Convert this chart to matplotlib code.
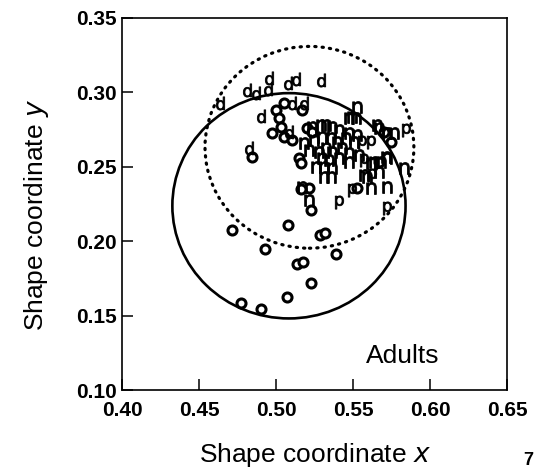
import numpy as np
import matplotlib
matplotlib.use("Agg")
import matplotlib.pyplot as plt
from matplotlib.patches import Circle

plt.rcParams['font.family'] = ['Liberation Sans', 'DejaVu Sans']

# group "d"
d_x = [0.4636, 0.4811, 0.4870, 0.4948, 0.4954, 0.5077, 0.5129, 0.5292, 0.4902, 0.5103, 0.5181, 0.5084, 0.4824]
d_y = [0.2932, 0.3013, 0.2993, 0.3026, 0.3094, 0.3060, 0.3087, 0.3080, 0.2839, 0.2926, 0.2932, 0.2731, 0.2624]

# group "n"
n_x = [0.5525, 0.5473, 0.5519, 0.5493, 0.5655, 0.5765, 0.5668, 0.5720, 0.5292, 0.5324,
       0.5363, 0.5408, 0.5473, 0.5181, 0.5214, 0.5246, 0.5298, 0.5356, 0.5395, 0.5454,
       0.5506, 0.5525, 0.5279, 0.5324, 0.5363, 0.5428, 0.5473, 0.5298, 0.5344, 0.5408,
       0.5473, 0.5259, 0.5311, 0.5363, 0.5311, 0.5356, 0.5538, 0.5636, 0.5681, 0.5713,
       0.5571, 0.5668, 0.5830, 0.5590, 0.5616, 0.5720, 0.5168, 0.5214, 0.5616, 0.5720,
       0.5233]
n_y = [0.2899, 0.2825, 0.2825, 0.2832, 0.2778, 0.2724, 0.2758, 0.2724, 0.2778, 0.2778,
       0.2765, 0.2745, 0.2724, 0.2657, 0.2610, 0.2678, 0.2698, 0.2691, 0.2664, 0.2691,
       0.2664, 0.2711, 0.2597, 0.2624, 0.2597, 0.2624, 0.2590, 0.2557, 0.2543, 0.2557,
       0.2530, 0.2496, 0.2496, 0.2490, 0.2429, 0.2429, 0.2577, 0.2530, 0.2530, 0.2563,
       0.2443, 0.2463, 0.2490, 0.2429, 0.2355, 0.2362, 0.2362, 0.2275, 0.2523, 0.2557,
       0.2765]

# group "p"
p_x = [0.5843, 0.5558, 0.5616, 0.5571, 0.5623, 0.5493, 0.5408, 0.5720]
p_y = [0.2745, 0.2664, 0.2664, 0.2543, 0.2443, 0.2342, 0.2261, 0.2221]

# group "o"
o_x = [0.5000, 0.5051, 0.5168, 0.5019, 0.5032, 0.4974, 0.5051, 0.5103, 0.4844, 0.5201,
       0.5233, 0.5149, 0.5162, 0.5214, 0.5525, 0.5668, 0.5700, 0.5746,
       0.4715, 0.4929, 0.5078, 0.5228, 0.5163, 0.5286, 0.5319, 0.5390, 0.5137, 0.5176,
       0.5228, 0.5072, 0.4773, 0.4903]
o_y = [0.2879, 0.2932, 0.2879, 0.2825, 0.2765, 0.2724, 0.2698, 0.2678, 0.2563, 0.2758,
       0.2731, 0.2557, 0.2523, 0.2355, 0.2355, 0.2530, 0.2731, 0.2664,
       0.2074, 0.1946, 0.2107, 0.2208, 0.2353, 0.2040, 0.2054, 0.1913, 0.1846, 0.1859,
       0.1718, 0.1624, 0.1587, 0.1547]

# circles (center x, center y, radius)
solid_c = (0.5084, 0.2238, 0.0757)
dotted_c = (0.5217, 0.2631, 0.0678)

x_ticks = [0.40, 0.45, 0.50, 0.55, 0.60, 0.65]
y_ticks = [0.10, 0.15, 0.20, 0.25, 0.30, 0.35]

fig = plt.figure(figsize=(5.36, 4.72), dpi=100)
ax = fig.add_axes([0.2276, 0.1737, 0.7184, 0.7882])

ax.add_patch(Circle(solid_c[:2], solid_c[2], fill=False, ec='black', lw=1.9))
ax.add_patch(Circle(dotted_c[:2], dotted_c[2], fill=False, ec='black', lw=2.3,
                    linestyle=(0, (0.4, 1.9)), capstyle='round'))

ax.plot(o_x, o_y, linestyle='none', marker='o', ms=6.5, mfc='white', mec='black', mew=2.2)
ax.plot(d_x, d_y, linestyle='none', marker='$\\mathsf{d}$', ms=9.5, color='black', mew=0.6)
ax.plot(n_x, n_y, linestyle='none', marker='$\\mathsf{n}$', ms=8.5, color='black', mew=0.6)
ax.plot(p_x, p_y, linestyle='none', marker='$\\mathsf{p}$', ms=9.5, color='black', mew=0.6)

ax.set_xlim(0.40, 0.65)
ax.set_ylim(0.10, 0.35)
ax.set_xticks(x_ticks)
ax.set_yticks(y_ticks)
ax.set_xticklabels(['%.2f' % v for v in x_ticks], fontweight='bold', fontsize=15)
ax.set_yticklabels(['%.2f' % v for v in y_ticks], fontweight='bold', fontsize=15)
ax.tick_params(direction='in', length=8, width=1.1, pad=4)
ax.tick_params(axis='x', pad=8)
for s in ax.spines.values():
    s.set_linewidth(1.2)

ax.set_xlabel('Shape coordinate $\\mathit{x}$', fontsize=19)
ax.set_ylabel('Shape coordinate $\\mathit{y}$', fontsize=19)
ax.xaxis.set_label_coords(0.5, -0.138)
ax.yaxis.set_label_coords(-0.184, 0.47)

ax.text(0.582, 0.1228, 'Adults', fontsize=19, ha='center', va='center')
fig.text(0.976, 0.025, '7', fontsize=13, fontweight='bold', ha='left', va='center')

fig.savefig('out.png', dpi=100)
